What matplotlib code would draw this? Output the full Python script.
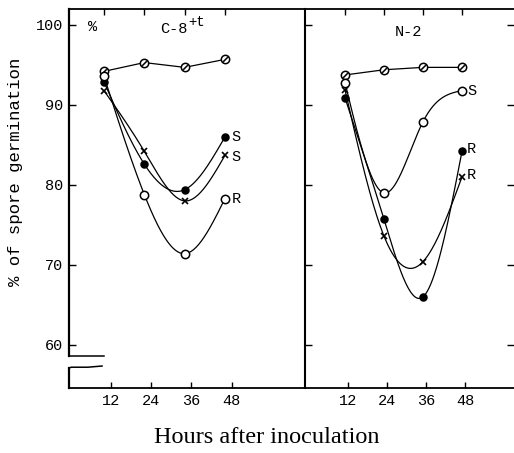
import numpy as np
import matplotlib
matplotlib.use("Agg")
import matplotlib.pyplot as plt
from matplotlib.path import Path
import matplotlib.transforms as mtrans

# ---- data ----
hours = [12, 24, 36, 48]

# C-8+t panel
c8_control = [94.2, 95.3, 94.7, 95.7]
c8_dot_S   = [92.9, 82.6, 79.4, 86.0]
c8_x_S     = [91.8, 84.2, 78.0, 83.7]
c8_open_R  = [93.6, 78.8, 71.4, 78.3]

# N-2 panel
n2_control = [93.75, 94.4, 94.7, 94.7]
n2_open_S  = [92.8, 79.0, 87.9, 91.8]
n2_dot_R   = [90.9, 75.7, 66.0, 84.2]
n2_x_R     = [91.9, 73.6, 70.4, 81.0]

yticks = [60, 70, 80, 90, 100]
xtick_labels = ["12", "24", "36", "48"]

W, H = 514, 453
fig = plt.figure(figsize=(W / 100, H / 100), dpi=100)

def frame(x0, x1, ytop, ybot):
    return [x0 / W, 1 - ybot / H, (x1 - x0) / W, (ybot - ytop) / H]

axR = fig.add_axes(frame(305, 514, 9, 388))
axL = fig.add_axes(frame(69, 305, 9, 388))
axL.patch.set_visible(False)
axR.patch.set_visible(False)

YLIM = (54.6, 102)
mono = "Liberation Mono"

slash = Path.make_compound_path(
    Path.unit_circle(),
    Path([(-0.55, -0.55), (0.55, 0.55)], [Path.MOVETO, Path.LINETO]))


def natural_spline(x, y, xs):
    x = np.asarray(x, float)
    y = np.asarray(y, float)
    n = len(x)
    h = np.diff(x)
    A = np.zeros((n, n))
    b = np.zeros(n)
    A[0, 0] = A[-1, -1] = 1
    for i in range(1, n - 1):
        A[i, i - 1] = h[i - 1]
        A[i, i] = 2 * (h[i - 1] + h[i])
        A[i, i + 1] = h[i]
        b[i] = 3 * ((y[i + 1] - y[i]) / h[i] - (y[i] - y[i - 1]) / h[i - 1])
    c = np.linalg.solve(A, b)
    out = np.empty_like(xs)
    for k, xv in enumerate(xs):
        i = min(np.searchsorted(x, xv, side="right") - 1, n - 2)
        i = max(i, 0)
        dx = xv - x[i]
        bb = (y[i + 1] - y[i]) / h[i] - h[i] * (2 * c[i] + c[i + 1]) / 3
        d = (c[i + 1] - c[i]) / (3 * h[i])
        out[k] = y[i] + bb * dx + c[i] * dx ** 2 + d * dx ** 3
    return out


def curve(ax, ys, marker, filled=False, ms=6):
    xs = np.linspace(hours[0], hours[-1], 200)
    ax.plot(xs, natural_spline(hours, ys, xs), color="black", lw=0.9, zorder=2)
    if marker == "x":
        ax.plot(hours, ys, "x", color="black", ms=5, mew=1.2, zorder=3)
    else:
        ax.plot(hours, ys, linestyle="none", marker=marker, ms=ms,
                mfc="black" if filled else "white", mec="black", mew=1.1, zorder=3)


def line_only(ax, ys, marker, filled=False):
    ax.plot(hours, ys, color="black", lw=0.9, zorder=2)
    ax.plot(hours, ys, linestyle="none", marker=marker, ms=6,
            mfc="black" if filled else "white", mec="black", mew=1.1, zorder=3)

# ---- left panel ----
line_only(axL, c8_control, slash)
curve(axL, c8_dot_S, "o", filled=True, ms=5)
curve(axL, c8_x_S, "x")
curve(axL, c8_open_R, "o")
axL.text(50, c8_dot_S[-1], "S", fontsize=11, family=mono, va="center")
axL.text(50, c8_x_S[-1] - 0.2, "S", fontsize=11, family=mono, va="center")
axL.text(50, c8_open_R[-1], "R", fontsize=11, family=mono, va="center")
axL.text(28.7, 99.5, "C-8", fontsize=11, family=mono, va="center")
axL.text(37.0, 100.4, "+t", fontsize=10, family=mono, va="center")
axL.text(7.2, 99.8, "%", fontsize=11, family=mono, va="center")

axL.set_xlim(1.6, 71.8)
axL.set_ylim(*YLIM)

# ---- right panel ----
line_only(axR, n2_control, slash)
curve(axR, n2_open_S, "o")
curve(axR, n2_dot_R, "o", filled=True, ms=5)
curve(axR, n2_x_R, "x")
axR.text(49.5, n2_open_S[-1], "S", fontsize=11, family=mono, va="center")
axR.text(49.5, n2_dot_R[-1] + 0.3, "R", fontsize=11, family=mono, va="center")
axR.text(49.5, n2_x_R[-1] + 0.2, "R", fontsize=11, family=mono, va="center")
axR.text(27.4, 99.1, "N-2", fontsize=11, family=mono, va="center")

axR.set_xlim(-0.3, 64)
axR.set_ylim(*YLIM)

# ---- axes styling ----
for ax, offs in ((axL, 2.0), (axR, 1.0)):
    ax.set_yticks(yticks)
    ax.set_xticks([h + offs for h in hours])
    ax.set_xticklabels(xtick_labels, family=mono, fontsize=11)
    ax.tick_params(axis="both", direction="in", length=4, width=1.0, pad=4)
    ax.spines["top"].set_linewidth(1.3)
    ax.spines["bottom"].set_linewidth(1.3)
    sec = ax.secondary_xaxis("top")
    sec.set_xticks(hours)
    sec.set_xticklabels([])
    sec.tick_params(direction="in", length=4, width=1.0)
    sec.spines["top"].set_visible(False)

axL.set_yticklabels([str(v) for v in yticks], family=mono, fontsize=11)
axL.spines["left"].set_visible(False)
axL.spines["right"].set_linewidth(1.5)
axL.tick_params(axis="y", left=True, right=False, length=5)

axR.spines["left"].set_visible(False)
axR.spines["right"].set_visible(False)
axR.tick_params(axis="y", left=True, right=True, labelleft=False, length=5)

# broken left spine of left panel
tr = mtrans.blended_transform_factory(axL.transAxes, axL.transData)
axL.plot([0, 0], [58.6, YLIM[1]], transform=tr, color="black", lw=1.6, clip_on=False, zorder=4)
axL.plot([0, 0.15], [58.6, 58.6], transform=tr, color="black", lw=1.1, clip_on=False, zorder=4)
axL.plot([0, 0], [YLIM[0], 57.1], transform=tr, color="black", lw=1.6, clip_on=False, zorder=4)
axL.plot([0, 0.01, 0.08, 0.14], [57.1, 57.2, 57.2, 57.35], transform=tr,
         color="black", lw=1.1, clip_on=False, zorder=4)

fig.text(0.03, 0.62, "% of spore germination", rotation=90, family=mono,
         fontsize=12.5, ha="center", va="center")
fig.text(0.518, 0.035, "Hours after inoculation", family="Liberation Serif",
         fontsize=17.5, ha="center", va="center")

fig.savefig("out.png", dpi=100)
